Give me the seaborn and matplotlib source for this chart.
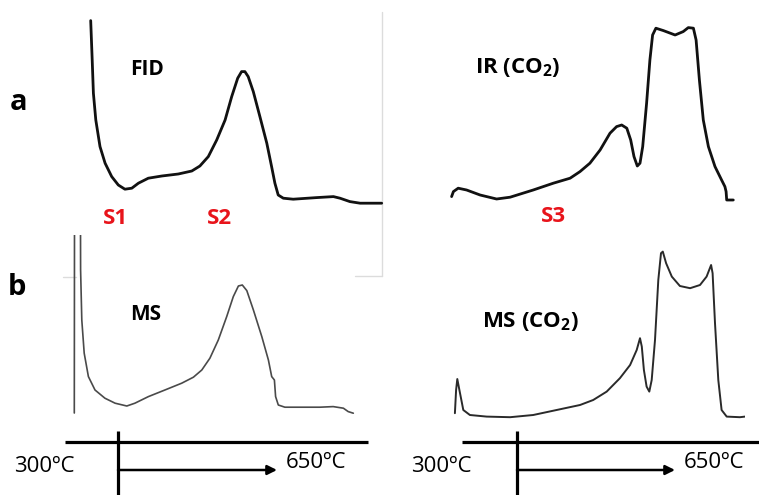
"""Schematic of FID / IR / MS pyrolysis signals over a 300-650 C ramp."""

import matplotlib

matplotlib.use("Agg")
import matplotlib.pyplot as plt  # noqa: E402
import pandas as pd  # noqa: E402
import seaborn as sns  # noqa: E402

sns.set_theme(style="white")
plt.rcParams["font.family"] = ["Open Sans", "DejaVu Sans"]
plt.rcParams["text.color"] = "black"
plt.rcParams["lines.solid_joinstyle"] = "round"
plt.rcParams["mathtext.fontset"] = "custom"
plt.rcParams["mathtext.rm"] = "Open Sans"
plt.rcParams["mathtext.bf"] = "Open Sans:bold"

W, H = 759, 495

# relative time (% of run) and relative signal (% of panel height)
FID_T = [1.9, 2.4, 2.8, 3.6, 5.0, 6.7, 8.9, 11.1, 13.3, 15.6, 17.8, 21.1, 25.6, 31.1,
         35.6, 38.3, 41.1, 43.9, 46.7, 48.9, 50.9, 52.2, 53.3, 54.4, 56.1, 58.3,
         60.6, 62.2, 63.3, 64.4, 66.1, 69.4, 77.2, 82.8, 85.0, 88.3, 91.7, 98.9]
FID_S = [94.7, 75.0, 58.4, 45.0, 31.7, 23.4, 16.7, 12.5, 10.4, 10.9, 13.4, 15.9, 17.0,
         18.0, 19.5, 22.0, 26.7, 35.0, 45.0, 56.7, 65.9, 69.2, 69.2, 66.7, 59.2,
         46.7, 33.4, 21.7, 13.4, 7.5, 5.9, 5.4, 6.2, 6.7, 5.9, 4.2, 3.4, 3.4]

IR_T = [2.2, 2.8, 4.4, 7.2, 11.7, 17.2, 21.7, 29.4, 36.1, 41.7, 45.0, 48.3, 51.7,
        55.0, 57.2, 58.9, 60.6, 61.9, 63.0, 64.1, 65.0, 65.9, 67.2, 68.3, 69.2,
        70.3, 72.8, 76.7, 79.4, 81.1, 82.8, 83.7, 84.8, 86.1, 87.8, 90.0, 92.2,
        93.3, 93.7, 93.9, 96.1]
IR_S = [6.7, 9.2, 10.9, 10.0, 7.5, 5.5, 6.4, 10.0, 13.4, 15.9, 19.2, 23.4, 30.0,
        38.4, 41.7, 42.5, 40.9, 35.0, 26.7, 22.0, 23.4, 31.7, 53.4, 75.0, 87.5,
        90.9, 89.7, 87.5, 89.2, 91.2, 90.9, 85.0, 65.0, 45.0, 31.7, 21.7, 15.0,
        11.7, 9.2, 5.0, 5.0]

MS_T = [3.1, 3.2, 5.1, 5.2, 5.6, 6.4, 7.8, 10.0, 13.3, 16.7, 20.6, 23.3, 27.8, 33.3,
        38.9, 42.8, 45.6, 48.3, 51.1, 53.9, 56.1, 57.8, 59.1, 60.6, 62.8, 65.6,
        67.8, 68.9, 69.8, 70.2, 71.1, 73.3, 76.7, 85.0, 89.4, 92.8, 94.4, 96.1]
MS_S = [11.0, 150.0, 150.0, 82.5, 57.5, 40.9, 29.2, 22.5, 18.4, 15.9, 14.5, 15.9, 19.2,
        22.5, 25.9, 28.9, 32.5, 38.4, 47.5, 59.2, 69.2, 74.5, 75.0, 72.2, 62.5, 49.2,
        37.5, 29.2, 27.5, 19.2, 15.0, 13.9, 13.9, 13.9, 14.2, 13.4, 11.7, 10.9]

MSCO2_T = [3.3, 3.7, 4.1, 4.8, 6.1, 8.3, 13.9, 21.7, 29.4, 37.2, 45.0, 49.4, 53.9,
           58.3, 61.7, 63.9, 65.0, 65.6, 66.3, 67.2, 68.1, 68.9, 70.0, 71.1, 72.0,
           72.6, 73.7, 75.6, 78.3, 81.7, 85.0, 87.2, 88.7, 89.2, 90.0, 91.1, 92.2,
           93.9, 98.3, 100.0]
MSCO2_S = [10.9, 22.5, 28.0, 22.5, 12.5, 10.0, 9.2, 8.9, 10.0, 12.5, 15.0, 17.5, 21.7,
           28.4, 35.0, 42.5, 48.4, 44.2, 32.5, 24.2, 21.7, 27.5, 47.5, 77.5, 90.9,
           91.7, 85.9, 79.2, 74.5, 73.4, 75.0, 79.2, 85.0, 80.9, 55.9, 27.5, 12.5,
           9.2, 8.9, 9.2]

TEMP_START = 300
TEMP_END = 650
PEAK_LABELS = ["S1", "S2", "S3"]


def _frac(x0, y0, x1, y1):
    """pixel box (top-left origin) -> figure-fraction rect."""
    return [x0 / W, 1 - y1 / H, (x1 - x0) / W, (y1 - y0) / H]


def _panel(fig, box, t, s, color, lw):
    ax = fig.add_axes(_frac(*box))
    df = pd.DataFrame({"t": t, "s": s})
    sns.lineplot(data=df, x="t", y="s", sort=False, estimator=None,
                 color=color, linewidth=lw, ax=ax)
    ax.set_xlim(0, 100)
    ax.set_ylim(0, 100)
    ax.axis("off")
    return ax


fig = plt.figure(figsize=(W / 100, H / 100), dpi=100)

# canvas in pixel coords for decorations and labels
canvas = fig.add_axes([0, 0, 1, 1])
canvas.set_xlim(0, W)
canvas.set_ylim(H, 0)
canvas.axis("off")

# faint frame left over from the source figure
grey = "#dcdcdc"
canvas.plot([382, 382], [12, 276], color=grey, lw=1)
canvas.plot([355, 382], [276, 276], color=grey, lw=1)
canvas.plot([63, 76], [277, 277], color=grey, lw=1)

_panel(fig, (85, 10, 385, 210), FID_T, FID_S, "#111111", 2.0)
_panel(fig, (445, 10, 745, 210), IR_T, IR_S, "#111111", 2.0)
_panel(fig, (65, 235, 365, 435), MS_T, MS_S, "#4a4a4a", 1.2)
_panel(fig, (445, 235, 745, 435), MSCO2_T, MSCO2_S, "#2a2a2a", 1.4)

# temperature ramp axes under the lower panels
for x_line0, x_line1, x_tick, x_tip, x_lo, x_hi in [(65, 368, 118, 277, 44, 316),
                                                    (462, 759, 517, 675, 441, 714)]:
    canvas.plot([x_line0, x_line1], [441.5, 441.5], color="black", lw=2.3,
                solid_capstyle="butt")
    canvas.plot([x_tick, x_tick], [431, 495], color="black", lw=2.3,
                solid_capstyle="butt")
    canvas.annotate("", xy=(x_tip, 470), xytext=(x_tick, 470),
                    arrowprops=dict(arrowstyle="-|>", lw=1.8, color="black",
                                    mutation_scale=14, shrinkA=0, shrinkB=0))
    canvas.text(x_lo, 466, f"{TEMP_START}ºC", fontsize=16, ha="center", va="center")
    canvas.text(x_hi, 462, f"{TEMP_END}ºC", fontsize=16, ha="center", va="center")

# panel letters and signal names
canvas.text(10, 110, "a", fontsize=21, fontweight="bold", va="baseline")
canvas.text(8, 295, "b", fontsize=21, fontweight="bold", va="baseline")
canvas.text(130, 75, "FID", fontsize=15, fontweight="bold", va="baseline")
canvas.text(475, 73, r"IR (CO$_\mathbf{2}$)", fontsize=16, fontweight="bold",
            va="baseline")
canvas.text(130, 320, "MS", fontsize=15, fontweight="bold", va="baseline")
canvas.text(482, 327, r"MS (CO$_\mathbf{2}$)", fontsize=16, fontweight="bold",
            va="baseline")

red = "#e8141b"
for label, (x, y) in zip(PEAK_LABELS, [(116, 218), (220, 218), (554, 216)]):
    canvas.text(x, y, label, fontsize=16, fontweight="bold", color=red,
                ha="center", va="center")

fig.savefig("out.png", dpi=100)
plt.close(fig)
